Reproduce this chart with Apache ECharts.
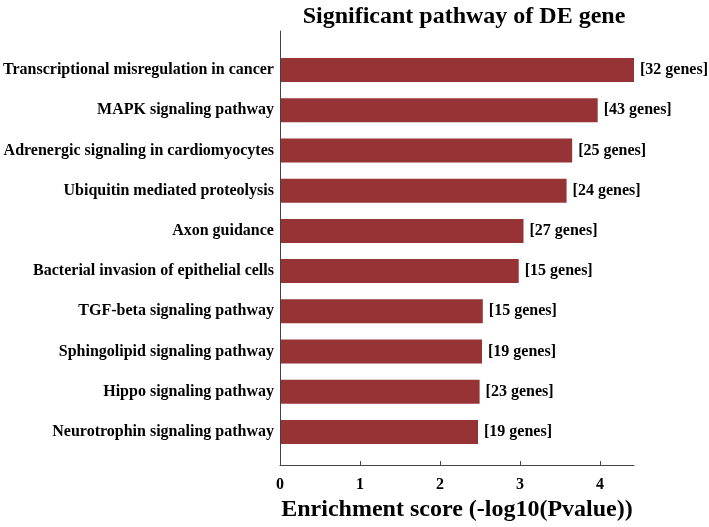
<!DOCTYPE html>
<html>
<head>
<meta charset="utf-8">
<script src="https://cdn.jsdelivr.net/npm/echarts@6/dist/echarts.min.js"></script>
<style>html,body{margin:0;padding:0;background:#fff;}#main{width:709px;height:527px;}</style>
</head>
<body>
<div id="main"></div>
<script>
const categories = [
  "Transcriptional misregulation in cancer",
  "MAPK signaling pathway",
  "Adrenergic signaling in cardiomyocytes",
  "Ubiquitin mediated proteolysis",
  "Axon guidance",
  "Bacterial invasion of epithelial cells",
  "TGF-beta signaling pathway",
  "Sphingolipid signaling pathway",
  "Hippo signaling pathway",
  "Neurotrophin signaling pathway"
];
const scores = [4.43, 3.97, 3.65, 3.58, 3.04, 2.98, 2.53, 2.52, 2.49, 2.47];
const geneCounts = [32, 43, 25, 24, 27, 15, 15, 19, 23, 19];
const xTicks = [0, 1, 2, 3, 4];

const FONT = '"Liberation Serif", "Times New Roman", serif';
const AXIS_COLOR = '#444';
const XMAX = 4.425;

const chart = echarts.init(document.getElementById('main'));
chart.setOption({
  backgroundColor: '#fff',
  animation: false,
  title: {
    text: 'Significant pathway of DE gene',
    left: 459, top: 0, textAlign: 'center',
    textStyle: { fontFamily: FONT, fontWeight: 'bold', fontSize: 24, color: '#000' }
  },
  grid: [
    { left: 280, top: 31, width: 354, height: 440.7, containLabel: false },
    { left: 280, top: 50, width: 354, height: 402, containLabel: false }
  ],
  xAxis: [
    {
      gridIndex: 0, type: 'value', min: 0, max: XMAX, interval: 1,
      axisLine: { show: true, lineStyle: { color: AXIS_COLOR, width: 1 } },
      axisTick: { show: true, inside: true, length: 4, customValues: xTicks, lineStyle: { color: AXIS_COLOR } },
      splitLine: { show: false },
      axisLabel: {
        margin: 12, fontFamily: FONT, fontWeight: 'bold', fontSize: 16, color: '#000',
        customValues: xTicks
      },
      name: 'Enrichment score (-log10(Pvalue))',
      nameLocation: 'middle', nameGap: 28,
      nameTextStyle: { fontFamily: FONT, fontWeight: 'bold', fontSize: 24, color: '#000' }
    },
    {
      gridIndex: 1, type: 'value', min: 0, max: XMAX, show: false
    }
  ],
  yAxis: [
    {
      gridIndex: 0, type: 'value', min: 0, max: 1,
      axisLine: { show: true, lineStyle: { color: AXIS_COLOR, width: 1 } },
      axisTick: { show: false }, axisLabel: { show: false }, splitLine: { show: false }
    },
    {
      gridIndex: 1, type: 'category', data: categories, inverse: true,
      axisLine: { show: false }, axisTick: { show: false },
      axisLabel: {
        margin: 7, fontFamily: FONT, fontWeight: 'bold', fontSize: 16, color: '#000'
      }
    }
  ],
  series: [
    {
      type: 'bar', xAxisIndex: 1, yAxisIndex: 1,
      data: scores, barWidth: 24,
      itemStyle: { color: '#963335' },
      label: {
        show: true, position: 'right', distance: 6,
        fontFamily: FONT, fontWeight: 'bold', fontSize: 16, color: '#000',
        formatter: p => '[' + geneCounts[p.dataIndex] + ' genes]'
      }
    }
  ]
});
</script>
</body>
</html>
